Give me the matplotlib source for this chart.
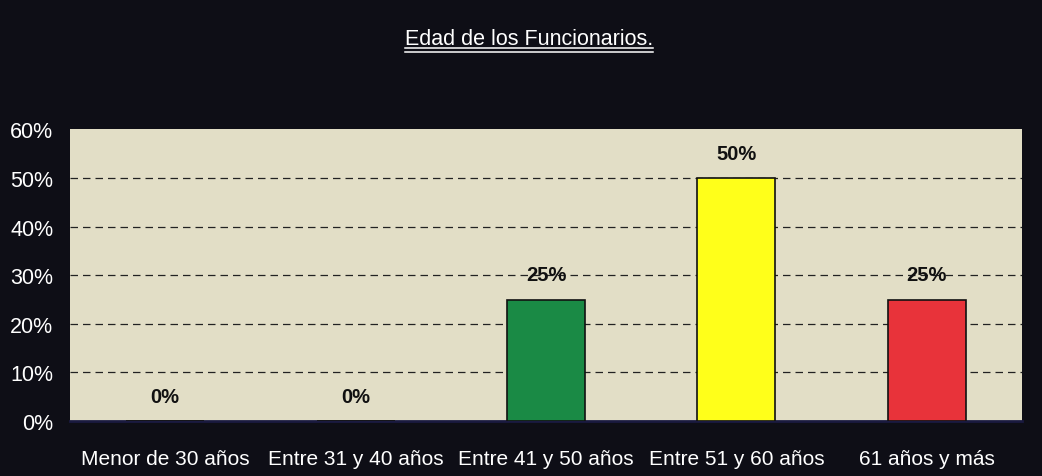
import numpy as np
import matplotlib
matplotlib.use("Agg")
from matplotlib import pyplot as plt
from matplotlib.lines import Line2D

categories = ["Menor de 30 años", "Entre 31 y 40 años", "Entre 41 y 50 años",
              "Entre 51 y 60 años", "61 años y más"]
values = [0, 0, 25, 50, 25]
colors = ["#1a8a45", "#1a8a45", "#1a8a45", "#ffff1a", "#e8333a"]
yticks = [0, 10, 20, 30, 40, 50, 60]

plt.rcParams['font.family'] = ['Liberation Sans', 'DejaVu Sans']

bg = "#0e0e16"
fig = plt.figure(figsize=(10.42, 4.77), dpi=100, facecolor=bg)
ax = fig.add_axes([0.0672, 0.115, 0.9136, 0.612])
ax.set_facecolor("#e2dec6")

x = np.arange(len(categories))
ax.bar(x, values, width=0.41, color=colors, edgecolor="#111111", linewidth=1.2, zorder=3)

for xi, v in zip(x, values):
    ax.annotate(f"{v}%", (xi, v), xytext=(0, 11), textcoords="offset points",
                ha="center", va="bottom", fontsize=14.5, fontweight="bold", color="#111111")

ax.set_xlim(-0.5, 4.5)
ax.set_ylim(0, 60)
ax.set_yticks(yticks)
ax.set_yticklabels([f"{t}%" for t in yticks], color="white", fontsize=15.5)
ax.set_xticks(x)
ax.set_xticklabels(categories, color="white", fontsize=15)
ax.tick_params(length=0)
ax.tick_params(axis="y", pad=12)
ax.tick_params(axis="x", pad=20)
for t in yticks[1:-1]:
    ax.axhline(t, color="#222222", linestyle=(0, (6, 4)), linewidth=0.9, zorder=1)
for s in ax.spines.values():
    s.set_visible(False)
ax.spines["bottom"].set_visible(True)
ax.spines["bottom"].set_color("#1a1a40")
ax.spines["bottom"].set_linewidth(2)

title = fig.text(0.508, 0.905, "Edad de los Funcionarios.", ha="center", va="baseline",
                 color="white", fontsize=15.5)
fig.canvas.draw()
bb = title.get_window_extent().transformed(fig.transFigure.inverted())
for dy in (0.008, 0.016):
    yy = 0.905 - dy
    fig.add_artist(Line2D([bb.x0, bb.x1], [yy, yy],
                          transform=fig.transFigure, color="white", linewidth=1.1))

fig.savefig("out.png", dpi=100, facecolor=bg)
